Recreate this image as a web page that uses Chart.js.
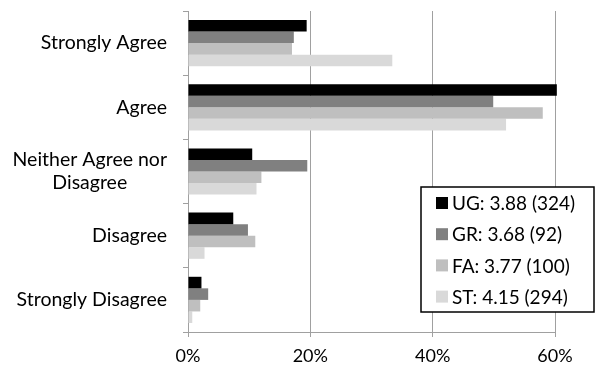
<!DOCTYPE html>
<html>
<head>
<meta charset="utf-8">
<script src="https://cdn.jsdelivr.net/npm/chart.js@4.4.0/dist/chart.umd.min.js"></script>
<style>
  html, body { margin: 0; padding: 0; background: #fff; }
  #wrap { width: 597px; height: 369px; position: relative; }
</style>
</head>
<body>
<div id="wrap"><canvas id="chart"></canvas></div>
<script>
/* ===== SURVEY RESPONSES ===== */

const categories  = [['Strongly Agree'], ['Agree'], ['Neither Agree nor', 'Disagree'], ['Disagree'], ['Strongly Disagree']];
const seriesNames = ['UG: 3.88 (324)', 'GR: 3.68 (92)', 'FA: 3.77 (100)', 'ST: 4.15 (294)'];
const ugValues    = [19.4, 60.3, 10.5, 7.4, 2.2];
const grValues    = [17.3, 49.9, 19.5, 9.8, 3.3];
const faValues    = [17.0, 58.0, 12.0, 11.0, 2.0];
const stValues    = [33.4, 52.0, 11.2, 2.7, 0.7];
const xTicks      = [0, 20, 40, 60];

const colors   = ['#000000', '#808080', '#bfbfbf', '#d9d9d9'];
const axisGray = '#a0a0a0';
const FONT     = 'Lato';

// Category labels: block right aligned, lines centred (Excel style)
const yLabelsPlugin = {
  id: 'yLabels',
  afterDraw(chart) {
    const ctx = chart.ctx;
    const y   = chart.scales.y;
    const right = y.right - 21;
    const lh  = 23;
    ctx.save();
    ctx.font = `19.5px ${FONT}`;
    ctx.fillStyle = '#000';
    ctx.textBaseline = 'middle';
    ctx.textAlign = 'center';
    categories.forEach((lines, i) => {
      const cy = y.getPixelForValue(i);
      const widest = Math.max(...lines.map(l => ctx.measureText(l).width));
      const cx = right - widest / 2;
      lines.forEach((l, j) => {
        ctx.fillText(l, cx, cy + (j - (lines.length - 1) / 2) * lh);
      });
    });
    ctx.restore();
  },
};

// Boxed legend sitting over the plot
const boxLegendPlugin = {
  id: 'boxLegend',
  afterDraw(chart) {
    const ctx = chart.ctx;
    const left = chart.width - 176, top = 187, w = 173, h = 125;
    ctx.save();
    ctx.fillStyle = '#fff';
    ctx.fillRect(left, top, w, h);
    ctx.strokeStyle = '#000';
    ctx.lineWidth = 1.5;
    ctx.strokeRect(left, top, w, h);
    ctx.font = `19px ${FONT}`;
    ctx.textBaseline = 'middle';
    ctx.textAlign = 'left';
    chart.data.datasets.forEach((ds, i) => {
      const cy = top + 16 + i * 31.2;
      ctx.fillStyle = ds.backgroundColor;
      ctx.fillRect(left + 15, cy - 6, 12, 12);
      ctx.fillStyle = '#000';
      ctx.fillText(ds.label, left + 31, cy + 1);
    });
    ctx.restore();
  },
};

const seriesValues = [ugValues, grValues, faValues, stValues];

new Chart(document.getElementById('chart'), {
  type: 'bar',
  data: {
    labels: categories,
    datasets: seriesNames.map((name, i) => ({
      label: name,
      data: seriesValues[i],
      backgroundColor: colors[i],
      borderWidth: 0,
      categoryPercentage: 0.72,
      barPercentage: 1.0,
      clip: false,
    })),
  },
  options: {
    indexAxis: 'y',
    responsive: true,
    maintainAspectRatio: false,
    animation: false,
    layout: { padding: { top: 11, right: 42, left: 0, bottom: 0 } },
    plugins: {
      legend: { display: false },
      tooltip: { enabled: false },
    },
    scales: {
      x: {
        min: 0,
        max: 60,
        afterBuildTicks: s => { s.ticks = xTicks.map(v => ({ value: v })); },
        afterFit: s => { s.height = 37; },
        ticks: {
          callback: v => v + '%',
          color: '#000',
          font: { family: FONT, size: 18 },
          padding: 8,
        },
        grid: { color: axisGray, lineWidth: 1, tickLength: 5 },
        border: { color: axisGray, width: 1 },
      },
      y: {
        afterFit: s => { s.width = 188; },
        ticks: { display: false },
        grid: { drawOnChartArea: false, offset: true, color: axisGray, tickLength: 5 },
        border: { color: axisGray, width: 1 },
      },
    },
  },
  plugins: [yLabelsPlugin, boxLegendPlugin],
});
</script>
</body>
</html>
